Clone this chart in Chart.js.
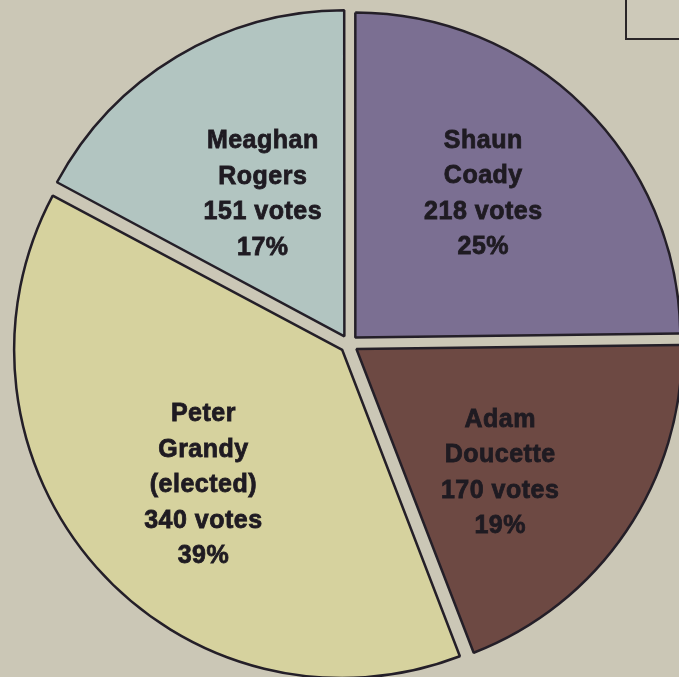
<!DOCTYPE html>
<html>
<head>
<meta charset="utf-8">
<script src="https://cdn.jsdelivr.net/npm/chart.js@4.4.1/dist/chart.umd.min.js"></script>
<style>
  html, body { margin: 0; padding: 0; background: #cbc7b6; overflow: hidden; }
  #wrap { position: relative; width: 679px; height: 677px; }
  #box { position: absolute; left: 625px; top: -4px; width: 60px; height: 40px;
         border: 2px solid #2a2628; background: #cdc9b9; }
  canvas { position: absolute; left: 0; top: 0; }
</style>
</head>
<body>
<div id="wrap">
  <canvas id="pie-chart" width="679" height="677"></canvas>
  <div id="box"></div>
</div>
<script>
// candidates, clockwise from the top
var candidates = ["Shaun Coady", "Adam Doucette", "Peter Grandy", "Meaghan Rogers"];
var notes = ["", "", "(elected)", ""];
var votes = [218, 170, 340, 151];
var colors = ["#7b6f92", "#6d4943", "#d6d29e", "#b2c5c1"];

var total = votes.reduce(function(a, b) { return a + b; }, 0);

// text inside each slice
var sliceLabels = {
    id: "sliceLabels",
    afterDatasetsDraw: function(chart) {
        var ctx = chart.ctx;
        var arcs = chart.getDatasetMeta(0).data;
        // small nudges so the text blocks sit where the print has them
        var nudge = [[-5, -9], [-13, 18], [3, 10], [4, 1]];
        ctx.save();
        ctx.font = "bold 25px 'Liberation Sans', Arial, sans-serif";
        ctx.letterSpacing = "0.5px";
        ctx.fillStyle = "#1f1b22";
        ctx.strokeStyle = "#1f1b22";
        ctx.lineWidth = 0.8;
        ctx.textAlign = "center";
        ctx.textBaseline = "middle";
        for (var i = 0; i < arcs.length; i++) {
            var p = arcs[i].getProps(["x", "y", "startAngle", "endAngle", "outerRadius"], true);
            var mid = (p.startAngle + p.endAngle) / 2;
            var r = p.outerRadius * (i == 3 ? 0.54 : 0.61);
            var cx = p.x + Math.cos(mid) * r + nudge[i][0];
            var cy = p.y + Math.sin(mid) * r + nudge[i][1];

            var lines = candidates[i].split(" ");
            if (notes[i]) lines.push(notes[i]);
            lines.push(votes[i] + " votes");
            lines.push(Math.round(votes[i] / total * 100) + "%");

            var lh = 35.5;
            var top = cy - (lines.length - 1) * lh / 2;
            for (var l = 0; l < lines.length; l++) {
                ctx.fillText(lines[l], cx, top + l * lh);
                ctx.strokeText(lines[l], cx, top + l * lh);
            }
        }
        ctx.restore();
    }
};

var chartCanvas = document.getElementById("pie-chart");
var pieChart = new Chart(chartCanvas, {
    type: "pie",
    data: {
        labels: candidates,
        datasets: [
            {
                data: votes,
                backgroundColor: colors,
                borderColor: "#241f28",
                borderWidth: 2.5,
                offset: 36,
                hoverOffset: 36
            }
        ]
    },
    options: {
        responsive: false,
        animation: false,
        radius: 325,
        layout: {
            padding: { left: 19, top: 11, right: 0, bottom: 0 }
        },
        plugins: {
            legend: { display: false },
            tooltip: { enabled: false }
        }
    },
    plugins: [sliceLabels]
});
</script>
</body>
</html>
